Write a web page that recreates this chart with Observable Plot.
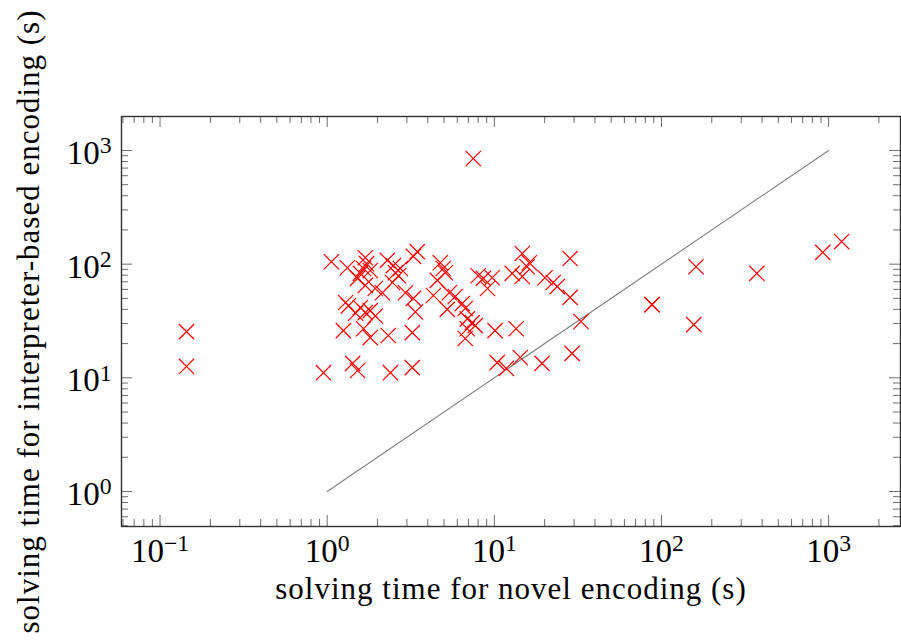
<!DOCTYPE html>
<html><head><meta charset="utf-8">
<script src="https://cdn.jsdelivr.net/npm/d3@7"></script>
<script src="https://cdn.jsdelivr.net/npm/@observablehq/plot@0.6"></script>
<style>body{margin:0;background:#fff}</style>
</head><body><div id="chart"></div>
<script>
// solving time for novel encoding (s)
const novelTime = [1.06,1.32,1.69,1.72,1.65,1.58,1.52,1.81,1.69,1.94,2.14,2.29,2.49,2.56,2.46,2.67,2.74,
  1.29,1.34,1.58,1.81,1.48,1.69,1.94,1.25,1.65,1.81,2.32,0.95,1.42,1.52,2.39,
  3.46,3.28,4.75,4.95,5.09,4.56,8.0,8.6,9.1,9.7,2.94,3.28,4.32,5.38,5.84,6.43,6.7,3.37,5.23,
  3.23,3.23,6.89,7.38,7.69,6.89,6.7,10.1,10.4,7.48,
  14.7,16.2,15.7,14.7,12.8,20.1,22.5,23.8,28.4,28.4,13.5,33.0,29.2,19.3,14.3,11.8,
  87.8,87.8,161,156,372,922,1197,0.144,0.144];
// solving time for interpreter-based encoding (s)
const interpTime = [105,93,114,101,91.5,83,75,88,65,61,56,108,97,84,69,79,91.5,
  46,43,41.5,39,37,37.5,35,26,27,22.6,23.6,11.1,13.4,11.6,11.1,
  129,117,103,91.5,84,72,79,75,61,76,56,50,53,56,52,45,40.7,38,40,
  25,12.3,33,30.6,28.8,27,22.2,26,13.6,850,
  124,103,95,78,83,76,69,63.5,112,51,27,31.3,16.4,13.4,15.1,12.1,
  44,44,95,29.4,83,127,158,25.5,12.6];
const diagonal = [1, 1000];
const xMajorTicks = [0.1, 1, 10, 100, 1000];
const yMajorTicks = [1, 10, 100, 1000];
const xTitle = "solving time for novel encoding (s)";
const yTitle = "solving time for interpreter-based encoding (s)";

const points = novelTime.map((x, i) => ({x, y: interpTime[i]}));
const xDomain = [0.0588, 2692];
const yDomain = [0.492, 1991];
function minorTicks(dom) {
  const out = [];
  for (let e = -3; e <= 4; e++) for (let m = 2; m <= 9; m++) {
    const v = m * 10 ** e;
    if (v >= dom[0] && v <= dom[1]) out.push(v);
  }
  return out;
}
const xMinor = minorTicks(xDomain), yMinor = minorTicks(yDomain);
const innerH = 640 - 116 - 114, innerW = 901 - 121 - 1;
const MAJ = 11, MIN = 7, tickColor = "#6e6e6e";
const fmt = d => "10^" + Math.round(Math.log10(d));

const chart = Plot.plot({
  width: 901, height: 640,
  marginLeft: 121, marginRight: 1, marginTop: 116, marginBottom: 114,
  x: {type: "log", domain: xDomain},
  y: {type: "log", domain: yDomain},
  style: {fontFamily: "'Liberation Serif', 'DejaVu Serif', serif", fontSize: "31px", color: "black", background: "white"},
  marks: [
    // ticks (inside, all four sides)
    Plot.ruleX(xMinor, {x: d => d, insetTop: innerH - MIN, stroke: tickColor}),
    Plot.ruleX(xMinor, {x: d => d, insetBottom: innerH - MIN, stroke: tickColor}),
    Plot.ruleX(xMajorTicks, {x: d => d, insetTop: innerH - MAJ, stroke: tickColor}),
    Plot.ruleX(xMajorTicks, {x: d => d, insetBottom: innerH - MAJ, stroke: tickColor}),
    Plot.ruleY(yMinor, {y: d => d, insetRight: innerW - MIN, stroke: tickColor}),
    Plot.ruleY(yMinor, {y: d => d, insetLeft: innerW - MIN, stroke: tickColor}),
    Plot.ruleY(yMajorTicks, {y: d => d, insetRight: innerW - MAJ, stroke: tickColor}),
    Plot.ruleY(yMajorTicks, {y: d => d, insetLeft: innerW - MAJ, stroke: tickColor}),
    Plot.axisX({ticks: xMajorTicks, tickSize: 0, tickPadding: 12, tickFormat: fmt, label: null, fontSize: 33}),
    Plot.axisY({ticks: yMajorTicks, tickSize: 0, tickPadding: 10, tickFormat: fmt, label: null, dy: 3, fontSize: 33}),
    Plot.line(diagonal, {x: d => d, y: d => d, stroke: "#7f7f7f", strokeWidth: 1.1}),
    Plot.dot(points, {x: "x", y: "y", symbol: "times", r: 7, stroke: "#ff0000", strokeWidth: 1.2}),
    Plot.frame({stroke: "#333", strokeWidth: 1.4}),
    Plot.text([xTitle], {text: d => d, frameAnchor: "bottom", textAnchor: "middle", dy: 72}),
    Plot.text([yTitle], {text: d => d, frameAnchor: "left", textAnchor: "middle", rotate: -90, dx: -92})
  ]
});
document.getElementById("chart").appendChild(chart);
// titles: slight letter spacing to match the reference width
d3.select(chart).selectAll("text").each(function() {
  const t = this.textContent;
  if (t === xTitle || t === yTitle) d3.select(this).attr("letter-spacing", "1px");
});
// superscript exponents on tick labels
d3.select(chart).selectAll("text").each(function() {
  const t = this.textContent;
  if (/^10\^-?\d+$/.test(t)) {
    const exp = t.split("^")[1].replace("-", "\u2212");
    const sel = d3.select(this);
    sel.text("10");
    sel.append("tspan").attr("dy", "-0.45em").attr("font-size", "0.72em").text(exp);
  }
});
</script>
</body></html>
